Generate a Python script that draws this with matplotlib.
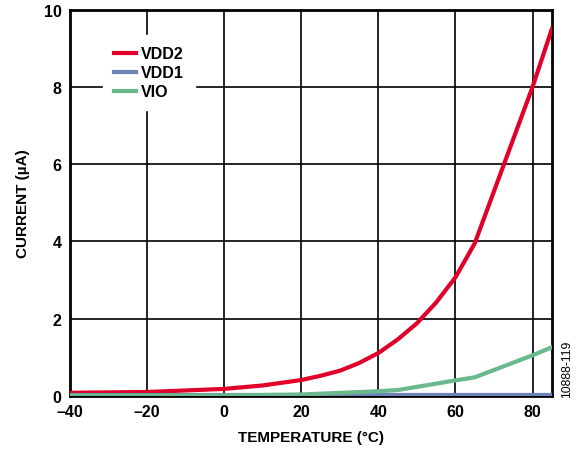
import numpy as np
import matplotlib
matplotlib.use("Agg")
import matplotlib.pyplot as plt

plt.rcParams['font.family'] = ['Liberation Sans', 'DejaVu Sans']

# Data
temp = [-40, -20, 0, 10, 20, 25, 30, 35, 40, 45, 50, 55, 60, 65, 70, 75, 80, 85]
vdd2 = [0.08, 0.10, 0.18, 0.27, 0.41, 0.52, 0.65, 0.85, 1.11, 1.46, 1.88, 2.42, 3.07, 3.95, 5.30, 6.65, 8.00, 9.50]
vdd1 = [0.01] * len(temp)
vio_t = [-40, 0, 20, 40, 45, 60, 65, 80, 85]
vio = [0.01, 0.01, 0.035, 0.12, 0.15, 0.40, 0.48, 1.05, 1.26]

xticks = [-40, -20, 0, 20, 40, 60, 80]
xlabels = ['–40', '–20', '0', '20', '40', '60', '80']
yticks = [0, 2, 4, 6, 8, 10]

fig = plt.figure(figsize=(5.79, 4.52), dpi=100)
ax = fig.add_axes([0.121, 0.122, 0.832, 0.854])

ax.plot(temp, vdd2, color='#e0002a', lw=3, label='VDD2', zorder=3)
ax.plot(temp, vdd1, color='#6c82b8', lw=3, label='VDD1', zorder=3)
ax.plot(vio_t, vio, color='#6ab98c', lw=3, label='VIO', zorder=3)

ax.set_xlim(-40, 85)
ax.set_ylim(0, 10)
ax.set_xticks(xticks)
ax.set_xticklabels(xlabels)
ax.set_yticks(yticks)
ax.grid(True, color='black', lw=1.2)
ax.tick_params(length=0, pad=6, labelsize=11.5)
for lab in ax.get_xticklabels() + ax.get_yticklabels():
    lab.set_fontweight('bold')
for s in ax.spines.values():
    s.set_linewidth(2)

ax.set_xlabel('TEMPERATURE (°C)', fontsize=11, fontweight='bold', labelpad=8)
ax.set_ylabel('CURRENT (µA)', fontsize=11, fontweight='bold', labelpad=10)

leg = ax.legend(loc='upper left', bbox_to_anchor=(103 / 579, 1 - 36 / 452),
                bbox_transform=fig.transFigure, borderaxespad=0, frameon=True,
                fancybox=False, edgecolor='white', framealpha=1,
                prop={'weight': 'bold', 'size': 11.5}, handlelength=1.35,
                handletextpad=0.3, labelspacing=0.25, borderpad=0.7)
leg.set_zorder(5)

fig.text(0.98, 0.1825, '10888-119', rotation=90, fontsize=8.8, ha='center', va='center')

fig.savefig('out.png', dpi=100)
